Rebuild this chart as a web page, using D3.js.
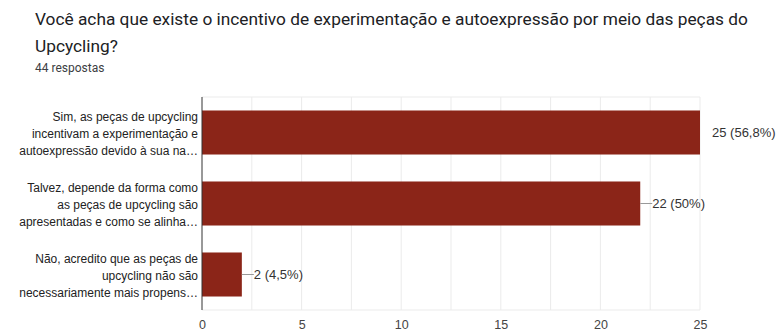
<!DOCTYPE html>
<html lang="pt">
<head>
  <meta charset="UTF-8">
  <title>Incentivo de experimentação e autoexpressão</title>
  <script src="https://d3js.org/d3.v7.min.js"></script>
  <style>
    body {
      margin: 0;
      padding: 0;
      background: #fff;
    }
    .title {
      font-family: Roboto, sans-serif;
      font-size: 17.3px;
      fill: #202124;
    }
    .sub {
      font-family: Roboto, sans-serif;
      font-size: 12px;
      fill: #3c4043;
    }
    .cat, .tick text, .val {
      font-family: "Liberation Sans", Arial, sans-serif;
      font-size: 12px;
      fill: #222;
    }
    .val { font-size: 13px; fill: #333; }
    .tick text { fill: #444; font-size: 12.5px; }
  </style>
</head>
<body>
  <div id="chart"></div>
  <script>
const categories = [
  ["Sim, as peças de upcycling", "incentivam a experimentação e", "autoexpressão devido à sua na…"],
  ["Talvez, depende da forma como", "as peças de upcycling são", "apresentadas e como se alinha…"],
  ["Não, acredito que as peças de", "upcycling não são", "necessariamente mais propens…"]
];
const counts = [25, 22, 2];
const labels = ["25 (56,8%)", "22 (50%)", "2 (4,5%)"];
const ticks = [0, 5, 10, 15, 20, 25];
const gridTicks = [2.5, 5, 7.5, 10, 12.5, 15, 17.5, 20, 22.5, 25];

const width = 776, height = 331;
const margin = { left: 202, right: 76, top: 97, bottom: 21 };

const svg = d3.select("#chart").append("svg")
  .attr("width", width)
  .attr("height", height);

svg.append("text").attr("class", "title")
  .attr("x", 35).attr("y", 25)
  .text("Você acha que existe o incentivo de experimentação e autoexpressão por meio das peças do");
svg.append("text").attr("class", "title")
  .attr("x", 35).attr("y", 52)
  .text("Upcycling?");
svg.append("text").attr("class", "sub")
  .attr("x", 35).attr("y", 72)
  .text("44 respostas");

const x = d3.scaleLinear()
  .domain([0, 25])
  .range([margin.left, width - margin.right]);

const y = d3.scaleBand()
  .domain(d3.range(counts.length))
  .range([margin.top, height - margin.bottom])
  .paddingInner(0.38)
  .paddingOuter(0.19);

// grid
svg.append("g")
  .selectAll("line")
  .data(gridTicks)
  .join("line")
  .attr("x1", d => x(d)).attr("x2", d => x(d))
  .attr("y1", margin.top).attr("y2", height - margin.bottom)
  .attr("stroke", "#ebebeb");

svg.append("line")
  .attr("x1", margin.left).attr("x2", x(25))
  .attr("y1", margin.top).attr("y2", margin.top)
  .attr("stroke", "#ebebeb");
svg.append("line")
  .attr("x1", margin.left).attr("x2", x(25))
  .attr("y1", height - margin.bottom).attr("y2", height - margin.bottom)
  .attr("stroke", "#ebebeb");

// bars
svg.append("g")
  .selectAll("rect")
  .data(counts)
  .join("rect")
  .attr("x", x(0))
  .attr("y", (d, i) => y(i))
  .attr("width", d => x(d) - x(0))
  .attr("height", y.bandwidth())
  .attr("fill", "#8b2518");

// leader lines and value labels
const ann = svg.append("g")
  .selectAll("g")
  .data(counts)
  .join("g");

ann.append("line")
  .attr("x1", d => x(d))
  .attr("x2", d => x(d) + 12)
  .attr("y1", (d, i) => y(i) + y.bandwidth() / 2)
  .attr("y2", (d, i) => y(i) + y.bandwidth() / 2)
  .attr("stroke", "#999")
  .attr("opacity", (d, i) => i === 0 ? 0 : 1);

ann.append("text")
  .attr("class", "val")
  .attr("x", d => x(d) + 12)
  .attr("y", (d, i) => y(i) + y.bandwidth() / 2)
  .attr("dy", "0.35em")
  .text((d, i) => labels[i]);

// category labels
svg.append("g")
  .selectAll("text")
  .data(categories)
  .join("text")
  .attr("class", "cat")
  .attr("text-anchor", "end")
  .attr("x", margin.left - 4)
  .attr("y", (d, i) => y(i) + y.bandwidth() / 2)
  .selectAll("tspan")
  .data(d => d)
  .join("tspan")
  .attr("x", margin.left - 4)
  .attr("dy", (d, j) => j === 0 ? "-0.97em" : "1.42em")
  .text(d => d);

// axis line
svg.append("line")
  .attr("x1", margin.left).attr("x2", margin.left)
  .attr("y1", margin.top).attr("y2", height - margin.bottom)
  .attr("stroke", "#333");

// x tick labels
const xAxis = svg.append("g")
  .attr("transform", `translate(0,${height - margin.bottom})`)
  .call(d3.axisBottom(x).tickValues(ticks).tickSize(0).tickPadding(10));
xAxis.select(".domain").remove();
xAxis.selectAll("text").attr("font-size", null).attr("font-family", null);
  </script>
</body>
</html>
